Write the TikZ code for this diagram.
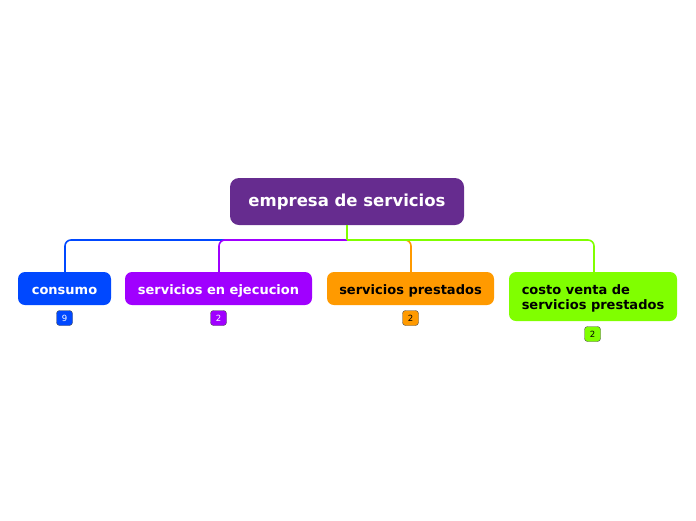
\documentclass[tikz,border=0pt]{standalone}
\usepackage{fontspec}
\setmainfont{DejaVu Sans}
\begin{document}
\begin{tikzpicture}[x=1pt,y=-1pt,
  topic/.style={rounded corners=7pt, minimum height=33pt, inner sep=0pt, text height=12pt, text depth=0pt, font=\fontsize{13}{15}\selectfont\bfseries, align=left},
  badge/.style={draw=black!70, rounded corners=3pt, minimum width=16pt, minimum height=15pt, inner sep=0pt, font=\fontsize{8.5}{9}\selectfont},
  link/.style={line width=1.6pt, rounded corners=6pt}]
\definecolor{cRoot}{HTML}{662C8F}
\definecolor{cBlue}{HTML}{0048FF}
\definecolor{cPurple}{HTML}{A000FF}
\definecolor{cOrange}{HTML}{FF9A00}
\definecolor{cGreen}{HTML}{80FF00}
\useasboundingbox (0,0) rectangle (696,520);
\node[fill=cRoot, rounded corners=9pt, minimum width=234pt, minimum height=47pt, inner sep=0pt, text height=12pt, text depth=2pt, text=white, font=\fontsize{16.5}{20}\selectfont\bfseries] (root) at (347,201.5) {empresa de servicios};
\node[topic, fill=cBlue, text=white, minimum width=93pt] (a) at (64.5,288.5) {consumo};
\node[topic, fill=cPurple, text=white, minimum width=187pt] (b) at (218.5,288.5) {servicios en ejecucion};
\node[topic, fill=cOrange, text=black, minimum width=167pt] (c) at (410.5,288.5) {servicios prestados};
\node[topic, fill=cGreen, text=black, minimum width=168pt, minimum height=49pt, text height=26pt, text depth=1pt] (d) at (593,296.5) {costo venta de\\servicios prestados};
\coordinate (j) at (347,240);
\draw[link, cBlue] (j) -| (65,272);
\draw[link, cPurple] (j) -| (219,272);
\draw[link, cOrange] (j) -| (411,272);
\draw[link, cGreen] (j) -| (594,272);
\draw[line width=1.6pt, cGreen] (root.south) -- (j);
\node[badge, fill=cBlue, text=white] (ba) at (64.5,318) {9};
\node[badge, fill=cPurple, text=white] (bb) at (218.5,318) {2};
\node[badge, fill=cOrange, text=black] (bc) at (410.5,318) {2};
\node[badge, fill=cGreen, text=black] (bd) at (592.5,334) {2};
\end{tikzpicture}
\end{document}
